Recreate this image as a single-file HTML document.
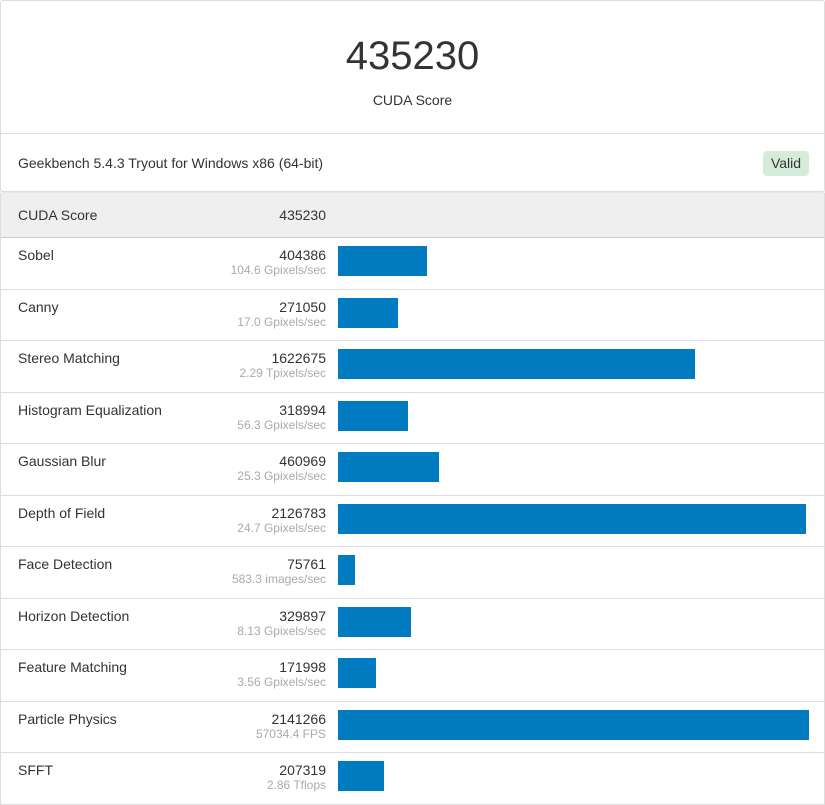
<!DOCTYPE html>
<html><head><meta charset="utf-8"><style>
body{margin:0;width:825px;height:805px;background:#fff;font-family:"Liberation Sans",sans-serif;color:#333;position:relative;overflow:hidden}
.card{position:absolute;left:0;top:0;width:823px;height:190px;border:1px solid #ddd;border-radius:3px;box-shadow:0 1px 2px rgba(0,0,0,.15)}
.big{position:absolute;left:0;width:823px;top:33px;text-align:center;font-size:40px;color:#333}
.sub{position:absolute;left:0;width:823px;top:91px;text-align:center;font-size:14px}
.sep{position:absolute;left:0;width:823px;top:132px;border-top:1px solid #ddd}
.ver{position:absolute;left:17px;top:154px;font-size:14px}
.valid{position:absolute;left:762px;top:150px;width:46px;height:25px;background:#d4ecd9;border-radius:4px;font-size:14px;line-height:25px;text-align:center}
.tbl{position:absolute;left:0;top:193px;width:823px;height:611px;border:1px solid #ddd;border-top:none}
.hdr{position:absolute;left:0;top:0;width:823px;height:44px;background:#efefef;border-bottom:1px solid #ccc;font-size:14px}
.row{position:absolute;left:0;width:823px;border-bottom:1px solid #ddd;font-size:14px}
.lab{position:absolute;left:17px;top:9px}
.val{position:absolute;right:498px;top:9px}
.unit{position:absolute;right:498px;top:25px;font-size:12px;color:#aaa}
.bar{position:absolute;left:337px;top:8px;height:30px;background:#007bbf}
</style></head><body>
<div class="card">
<div class="big">435230</div>
<div class="sub">CUDA Score</div>
<div class="sep"></div>
<div class="ver">Geekbench 5.4.3 Tryout for Windows x86 (64-bit)</div>
<div class="valid">Valid</div>
</div>
<div class="tbl" id="tbl">
<div class="hdr"><span class="lab" style="top:14px">CUDA Score</span><span class="val" style="top:14px">435230</span></div>
</div>
<script>
const categories=["Sobel","Canny","Stereo Matching","Histogram Equalization","Gaussian Blur","Depth of Field","Face Detection","Horizon Detection","Feature Matching","Particle Physics","SFFT"];
const scores=[404386,271050,1622675,318994,460969,2126783,75761,329897,171998,2141266,207319];
const units=["104.6 Gpixels/sec","17.0 Gpixels/sec","2.29 Tpixels/sec","56.3 Gpixels/sec","25.3 Gpixels/sec","24.7 Gpixels/sec","583.3 images/sec","8.13 Gpixels/sec","3.56 Gpixels/sec","57034.4 FPS","2.86 Tflops"];
const maxW=471;
const maxV=Math.max(...scores);
function xScale(v){return v/maxV*maxW;}
const tbl=document.getElementById('tbl');
const rowH=51.5;
categories.forEach((c,i)=>{
 const r=document.createElement('div');
 r.className='row';
 
 
 r.style.top=(45+i*rowH)+'px';
 r.style.height=(rowH-1)+'px';
 if(i==categories.length-1)r.style.borderBottom='none';
 const l=document.createElement('span');l.className='lab';l.textContent=c;
 
 
 const v=document.createElement('span');v.className='val';v.textContent=scores[i];
 
 
 const u=document.createElement('span');u.className='unit';u.textContent=units[i];
 
 
 const b=document.createElement('div');b.className='bar';b.style.width=xScale(scores[i])+'px';
 
 
 r.append(l,v,u,b);tbl.appendChild(r);
});
</script>
</body></html>
